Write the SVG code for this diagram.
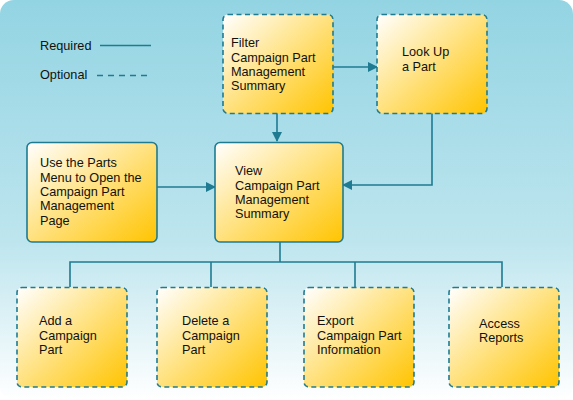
<svg xmlns="http://www.w3.org/2000/svg" width="573" height="400" viewBox="0 0 573 400">
<defs>
<linearGradient id="bg" x1="0" y1="0" x2="0" y2="1">
<stop offset="0" stop-color="#93d4e3"/>
<stop offset="0.6" stop-color="#bde5ee"/>
<stop offset="1" stop-color="#ffffff"/>
</linearGradient>
<linearGradient id="box" x1="0" y1="0" x2="1" y2="1">
<stop offset="0" stop-color="#ffffff"/>
<stop offset="0.45" stop-color="#ffe48a"/>
<stop offset="1" stop-color="#ffc400"/>
</linearGradient>
<marker id="arr" markerWidth="10" markerHeight="10" refX="9" refY="5" orient="auto" markerUnits="userSpaceOnUse">
<path d="M0,0 L10,5 L0,10 Z" fill="#1f7b91"/>
</marker>
<style>
.n{fill:url(#box);stroke:#1f7b91;stroke-width:1.6}
.d{stroke-dasharray:5,3.5}
.c{fill:none;stroke:#1f7b91;stroke-width:1.6}
text{font-family:"Liberation Sans",Arial,sans-serif;font-size:12.7px;fill:#111}
</style>
</defs>
<rect x="0" y="0" width="573" height="400" rx="14" fill="url(#bg)"/>
<g id="legend">
<text x="40" y="50">Required</text>
<line x1="100" y1="45.5" x2="151" y2="45.5" class="c"/>
<text x="40" y="79">Optional</text>
<line x1="97" y1="75.5" x2="151" y2="75.5" class="c" style="stroke-dasharray:6,5"/>
</g>
<g id="connectors">
<line x1="333" y1="67" x2="377" y2="67" class="c" marker-end="url(#arr)"/>
<line x1="277" y1="113" x2="277" y2="141" class="c" marker-end="url(#arr)"/>
<line x1="157" y1="187" x2="215" y2="187" class="c" marker-end="url(#arr)"/>
<polyline points="432,113 432,185 343,185" class="c" marker-end="url(#arr)"/>
<line x1="280" y1="242" x2="280" y2="262" class="c"/>
<polyline points="70,287 70,262 502,262 502,287" class="c"/>
<line x1="211" y1="262" x2="211" y2="287" class="c"/>
<line x1="355" y1="262" x2="355" y2="287" class="c"/>
</g>
<g id="filter">
<rect x="223" y="14.5" width="110" height="99" rx="5" class="n d"/>
<text x="231" y="47">Filter</text>
<text x="231" y="61.5">Campaign Part</text>
<text x="231" y="76">Management</text>
<text x="231" y="90">Summary</text>
</g>
<g id="lookup">
<rect x="377" y="14.5" width="110" height="99" rx="5" class="n d"/>
<text x="402" y="56">Look Up</text>
<text x="402" y="70.5">a Part</text>
</g>
<g id="useparts">
<rect x="27" y="142.5" width="130" height="99.5" rx="5" class="n"/>
<text x="40" y="167">Use the Parts</text>
<text x="40" y="181.5">Menu to Open the</text>
<text x="40" y="196">Campaign Part</text>
<text x="40" y="210">Management</text>
<text x="40" y="224.5">Page</text>
</g>
<g id="view">
<rect x="215" y="142.5" width="128" height="99.5" rx="5" class="n"/>
<text x="235" y="175">View</text>
<text x="235" y="189.5">Campaign Part</text>
<text x="235" y="204">Management</text>
<text x="235" y="218">Summary</text>
</g>
<g id="add">
<rect x="17" y="287.5" width="110" height="99.5" rx="5" class="n d"/>
<text x="39" y="325">Add a</text>
<text x="39" y="339.5">Campaign</text>
<text x="39" y="354">Part</text>
</g>
<g id="delete">
<rect x="157" y="287.5" width="110" height="99.5" rx="5" class="n d"/>
<text x="182" y="325">Delete a</text>
<text x="182" y="339.5">Campaign</text>
<text x="182" y="354">Part</text>
</g>
<g id="export">
<rect x="304" y="287.5" width="110" height="99.5" rx="5" class="n d"/>
<text x="317" y="325">Export</text>
<text x="317" y="339.5">Campaign Part</text>
<text x="317" y="354">Information</text>
</g>
<g id="access">
<rect x="449" y="287.5" width="110" height="99.5" rx="5" class="n d"/>
<text x="479" y="327.5">Access</text>
<text x="479" y="342">Reports</text>
</g>
</svg>
